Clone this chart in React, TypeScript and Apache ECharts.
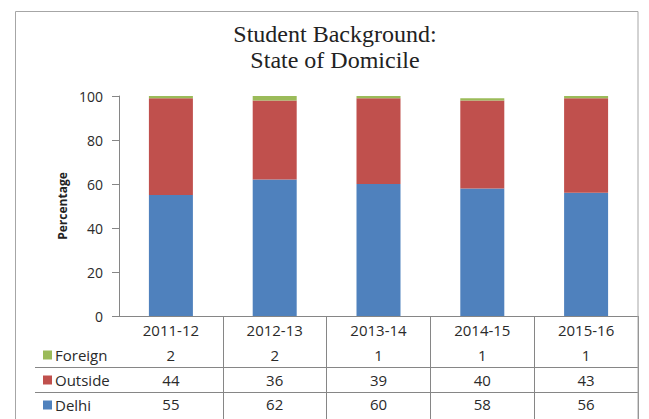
import React, { useEffect, useRef } from "react";
import * as echarts from "echarts";

const categories = ["2011-12", "2012-13", "2013-14", "2014-15", "2015-16"];
const foreign = [2, 2, 1, 1, 1];
const outside = [44, 36, 39, 40, 43];
const delhi = [55, 62, 60, 58, 56];
const yTicks = { min: 0, max: 100, interval: 20 };

const SANS = "'Open Sans', 'Noto Sans', sans-serif";
const BLUE = "#4F81BD";
const RED = "#C0504D";
const GREEN = "#9BBB59";
const AXIS = "#868686";

export default function App() {
  const ref = useRef<HTMLDivElement>(null);
  useEffect(() => {
    if (!ref.current) return;
    const chart = echarts.init(ref.current, null, { renderer: "svg" });
    const rowAxis = (data: number[], offset: number) => ({
      type: "category",
      gridIndex: 0,
      position: "bottom",
      offset,
      data: data.map(String),
      axisLine: { show: false },
      axisTick: { show: false },
      splitLine: { show: false },
      axisLabel: { fontSize: 15, color: "#2a2a2a", fontFamily: SANS, margin: 6 },
    });
    chart.setOption({
      animation: false,
      backgroundColor: "#fff",
      grid: { left: 119, right: 11, top: 96, bottom: 103, containLabel: false },
      legend: {
        data: ["Foreign", "Outside", "Delhi"],
        orient: "vertical",
        left: 43,
        top: 347,
        padding: 0,
        icon: "rect",
        itemWidth: 9,
        itemHeight: 9,
        itemGap: 9,
        selectedMode: false,
        textStyle: { fontSize: 15, color: "#2a2a2a", fontFamily: SANS, lineHeight: 16, padding: [0, 0, 0, -2] },
      },
      xAxis: [
        {
          type: "category",
          data: categories,
          position: "bottom",
          axisLine: { show: true, lineStyle: { color: AXIS, width: 1 } },
          axisTick: {
            show: true,
            length: 110,
            interval: (i: number) => i !== 0,
            lineStyle: { color: AXIS, width: 1 },
          },
          axisLabel: { fontSize: 15, color: "#2a2a2a", fontFamily: SANS, margin: 6 },
          splitLine: { show: false },
        },
        rowAxis(foreign, 25),
        rowAxis(outside, 50),
        rowAxis(delhi, 74),
      ],
      yAxis: {
        type: "value",
        min: yTicks.min,
        max: yTicks.max,
        interval: yTicks.interval,
        name: "Percentage",
        nameLocation: "middle",
        nameRotate: 90,
        nameGap: 51,
        nameTextStyle: { fontSize: 12, fontWeight: "bold", color: "#222", fontFamily: SANS },
        axisLine: { show: true, lineStyle: { color: AXIS, width: 1 } },
        axisTick: { show: true, length: 7, lineStyle: { color: AXIS } },
        axisLabel: { fontSize: 14, color: "#2a2a2a", fontFamily: SANS, margin: 16 },
        splitLine: { show: false },
      },
      graphic: [
        {
          type: "rect",
          shape: { x: 15.5, y: 11.5, width: 622.5, height: 430 },
          style: { fill: "none", stroke: "#A6A6A6", lineWidth: 1 },
          silent: true,
          z: 100,
        },
        {
          type: "line",
          shape: { x1: 35, y1: 367.5, x2: 638, y2: 367.5 },
          style: { stroke: AXIS, lineWidth: 1 },
          silent: true,
        },
        {
          type: "line",
          shape: { x1: 35, y1: 392.5, x2: 638, y2: 392.5 },
          style: { stroke: AXIS, lineWidth: 1 },
          silent: true,
        },
        {
          type: "text",
          x: 335,
          y: 21,
          style: {
            text: "Student Background:\nState of Domicile",
            font: "24px 'Liberation Serif', 'Times New Roman', serif",
            fill: "#222",
            textAlign: "center",
            textVerticalAlign: "top",
            lineHeight: 26,
          },
          silent: true,
        },
      ],
      series: [
        {
          name: "Delhi",
          type: "bar",
          stack: "total",
          data: delhi,
          barWidth: 44,
          itemStyle: { color: BLUE },
        },
        {
          name: "Outside",
          type: "bar",
          stack: "total",
          data: outside,
          barWidth: 44,
          itemStyle: { color: RED },
        },
        {
          name: "Foreign",
          type: "bar",
          stack: "total",
          data: foreign,
          barWidth: 44,
          itemStyle: { color: GREEN },
        },
      ],
    });
    return () => chart.dispose();
  }, []);
  return (
    <div
      ref={ref}
      style={{ position: "fixed", left: 0, top: 0, width: 649, height: 419, background: "#fff" }}
    />
  );
}
